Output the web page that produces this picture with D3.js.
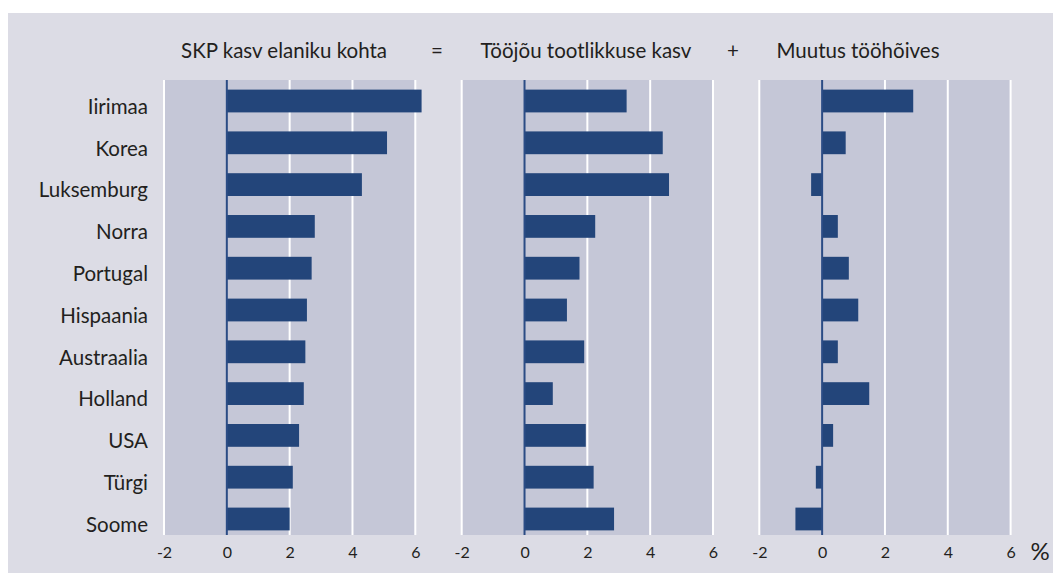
<!DOCTYPE html>
<html>
<head>
<meta charset="utf-8">
<script src="https://cdn.jsdelivr.net/npm/d3@7"></script>
<style>
  body { margin: 0; background: #fff; }
  svg { display: block; }
  text { font-family: Lato, "Noto Sans", sans-serif; fill: #231f20; }
</style>
</head>
<body>
<div class="chart-container"></div>
<script>
//! DATA
const countries = ['Iirimaa', 'Korea', 'Luksemburg', 'Norra', 'Portugal', 'Hispaania',
  'Austraalia', 'Holland', 'USA', 'Türgi', 'Soome'];
const gdpGrowth = [6.2, 5.1, 4.3, 2.8, 2.7, 2.55, 2.5, 2.45, 2.3, 2.1, 2.0];
const productivityGrowth = [3.25, 4.4, 4.6, 2.25, 1.75, 1.35, 1.9, 0.9, 1.95, 2.2, 2.85];
const employmentChange = [2.9, 0.75, -0.35, 0.5, 0.85, 1.15, 0.5, 1.5, 0.35, -0.2, -0.85];
const panelTitles = ['SKP kasv elaniku kohta', 'Tööjõu tootlikkuse kasv', 'Muutus tööhõives'];
const operators = ['=', '+'];
const tickValues = [-2, 0, 2, 4, 6];

//! CONSTS
const width = 1053;
const height = 573;
const plotTop = 80;
const plotBottom = 535;
const panelWidth = 251.3;
const panelLefts = [164, 461.7, 759.3];
const titleCenters = [284, 586, 858];
const operatorCenters = [437, 733];
const barColor = '#23457a';

//! SVG
const svg =
  d3.select('.chart-container')
    .append('svg')
    .attr('width', width)
    .attr('height', height);

svg.append('rect')
  .attr('x', 8)
  .attr('y', 13)
  .attr('width', width - 8)
  .attr('height', height - 13)
  .attr('fill', '#dcdce5');

//! Y
const yScale =
  d3.scaleBand()
    .domain(countries)
    .range([plotTop, 540])
    .paddingInner(0.455)
    .paddingOuter(0.23);

const yAxis =
  d3.axisLeft(yScale)
    .tickSize(0)
    .tickPadding(16);

svg.append('g')
  .attr('transform', `translate(${panelLefts[0]},0)`)
  .call(yAxis)
  .call(g => g.select('.domain').remove())
  .selectAll('text')
  .attr('dy', '0.62em')
  .style('font-size', '20.5px')
  .style('font-family', 'Lato, "Noto Sans", sans-serif')
  .attr('fill', '#231f20');

//! PANELS
const series = [gdpGrowth, productivityGrowth, employmentChange];

series.forEach((values, p) => {
  const x0 = panelLefts[p];
  const xScale =
    d3.scaleLinear()
      .domain([-2, 6])
      .range([x0, x0 + panelWidth]);

  const panel = svg.append('g');

  panel.append('rect')
    .attr('x', xScale(-2))
    .attr('y', plotTop)
    .attr('width', xScale(6) - xScale(-2))
    .attr('height', plotBottom - plotTop)
    .attr('fill', '#c5c7d7');

  panel.selectAll('.grid')
    .data(tickValues.filter(t => t !== 0))
    .enter()
    .append('line')
    .attr('class', 'grid')
    .attr('x1', d => xScale(d))
    .attr('x2', d => xScale(d))
    .attr('y1', plotTop)
    .attr('y2', plotBottom)
    .attr('stroke', '#ffffff')
    .attr('stroke-width', 2);

  panel.selectAll('.bar')
    .data(values)
    .enter()
    .append('rect')
    .attr('class', 'bar')
    .attr('x', d => xScale(Math.min(0, d)))
    .attr('y', (d, i) => yScale(countries[i]))
    .attr('width', d => Math.abs(xScale(d) - xScale(0)))
    .attr('height', yScale.bandwidth())
    .attr('fill', barColor);

  panel.append('line')
    .attr('x1', xScale(0))
    .attr('x2', xScale(0))
    .attr('y1', plotTop)
    .attr('y2', plotBottom)
    .attr('stroke', '#2b4c85')
    .attr('stroke-width', 2);

  const xAxis =
    d3.axisBottom(xScale)
      .tickValues(tickValues)
      .tickSize(0)
      .tickPadding(11.5)
      .tickFormat(d => String(d));

  panel.append('g')
    .attr('transform', `translate(0,${plotBottom})`)
    .call(xAxis)
    .call(g => g.select('.domain').remove())
    .selectAll('text')
    .style('font-size', '16px')
    .style('font-family', 'Lato, "Noto Sans", sans-serif')
    .attr('fill', '#231f20');

  //! TITLE
  svg.append('text')
    .attr('x', titleCenters[p])
    .attr('y', 58)
    .attr('text-anchor', 'middle')
    .style('font-size', '20.5px')
    .text(panelTitles[p]);
});

svg.selectAll('.operator')
  .data(operators)
  .enter()
  .append('text')
  .attr('class', 'operator')
  .attr('x', (d, i) => operatorCenters[i])
  .attr('y', 58)
  .attr('text-anchor', 'middle')
  .style('font-size', '20.5px')
  .text(d => d);

svg.append('text')
  .attr('x', 1040)
  .attr('y', 560)
  .attr('text-anchor', 'middle')
  .style('font-size', '24px')
  .text('%');
</script>
</body>
</html>
